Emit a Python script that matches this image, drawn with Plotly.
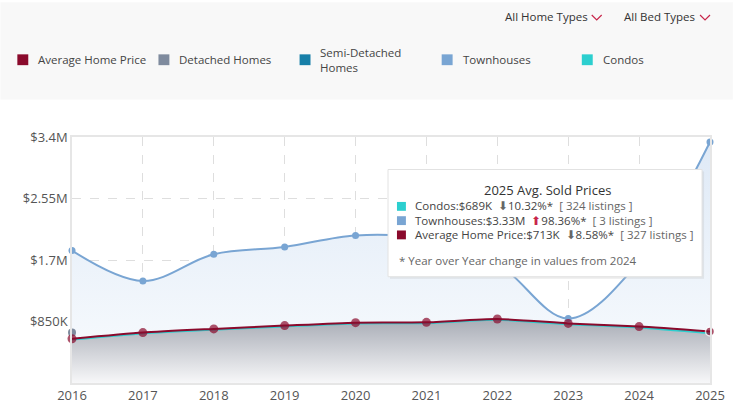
import plotly.graph_objects as go

# ---------------- data ----------------
years = [2016, 2017, 2018, 2019, 2020, 2021, 2022, 2023, 2024, 2025]
avg_price = [611e3, 697e3, 748e3, 793e3, 834e3, 838e3, 884e3, 824e3, 780e3, 713e3]
condos = [600e3, 685e3, 737e3, 782e3, 823e3, 827e3, 873e3, 812e3, 768e3, 689e3]
townhouses = [1.83e6, 1.41e6, 1.78e6, 1.88e6, 2.04e6, 1.99e6, 1.65e6, 0.89e6, 1.68e6, 3.33e6]
detached = [697e3, None, None, None, None, None, None, None, None, None]
semi_detached = [None] * 10

y_tick_vals = [850e3, 1.7e6, 2.55e6, 3.4e6]
y_tick_text = ["$850K", "$1.7M", "$2.55M", "$3.4M"]

legend_names = ["Average Home Price", "Detached Homes", "Semi-Detached<br>Homes", "Townhouses", "Condos"]
legend_colors = ["#8a0a2c", "#7f8b9e", "#177fa8", "#79a5d3", "#2ccfcf"]

tip_names = ["Condos", "Townhouses", "Average Home Price"]
tip_values = ["$689K", "$3.33M", "$713K"]
tip_changes = [-10.32, 98.36, -8.58]
tip_listings = [324, 3, 327]
tip_colors = ["#2ccfcf", "#79a5d3", "#8a0a2c"]

# ---------------- geometry helpers ----------------
W, H = 737, 416
L, R, T, B = 72, 714, 137, 387


def px(x):
    return (x - L) / (R - L)


def py(y):
    return (B - y) / (B - T)


FONT = "Open Sans"
fig = go.Figure()

# Townhouses (with light blue gradient fill)
fig.add_trace(go.Scatter(
    x=years, y=townhouses, mode="lines+markers", name="Townhouses",
    line=dict(color="#79a5d3", width=2, shape="spline", smoothing=1.0),
    marker=dict(size=7, color="#79a5d3"),
    fill="tozeroy",
    fillgradient=dict(type="vertical", start=0, stop=3.4e6,
                      colorscale=[[0, "rgba(250,252,254,1)"], [1, "rgba(222,233,246,1)"]]),
    cliponaxis=False, showlegend=False, hoverinfo="skip"))

# Semi-detached (no data)
fig.add_trace(go.Scatter(
    x=years, y=semi_detached, mode="lines+markers", name="Semi-Detached Homes",
    line=dict(color="#177fa8", width=2), showlegend=False, hoverinfo="skip"))

# Detached homes
fig.add_trace(go.Scatter(
    x=years, y=detached, mode="lines+markers", name="Detached Homes",
    line=dict(color="#7f8b9e", width=2), marker=dict(size=8, color="#7f8b9e"),
    cliponaxis=False, showlegend=False, hoverinfo="skip"))

# Condos
fig.add_trace(go.Scatter(
    x=years, y=condos, mode="lines", name="Condos",
    line=dict(color="#2ccfcf", width=2, shape="spline", smoothing=0.6),
    fill="tozeroy",
    fillgradient=dict(type="vertical", start=0, stop=880e3,
                      colorscale=[[0, "rgba(252,252,253,1)"], [1, "rgba(172,176,185,1)"]]),
    cliponaxis=False, showlegend=False, hoverinfo="skip"))

# Average home price
sizes = [9] * 9 + [9]
lw = [0] * 9 + [1.5]
fig.add_trace(go.Scatter(
    x=years, y=avg_price, mode="lines+markers", name="Average Home Price",
    line=dict(color="#8a0a2c", width=2, shape="spline", smoothing=0.6),
    marker=dict(size=sizes, color="#8a0a2c", line=dict(color="white", width=lw)),
    cliponaxis=False, showlegend=False, hoverinfo="skip"))

shapes = []
annotations = []

# top grey band
shapes.append(dict(type="rect", xref="paper", yref="paper", x0=px(0), x1=px(W), y0=py(99), y1=py(0),
                   fillcolor="#f8f8f8", line=dict(width=0), layer="below"))

# dropdowns
for label, xr, cx in [("All Home Types", 593, 600), ("All Bed Types", 701, 709)]:
    annotations.append(dict(xref="paper", yref="paper", x=px(xr), y=py(15), text=label,
                            xanchor="right", yanchor="middle", showarrow=False,
                            font=dict(family=FONT, size=11.5, color="#333")))
    shapes.append(dict(type="path", xref="paper", yref="paper",
                       path=f"M {px(cx-5)},{py(13)} L {px(cx)},{py(18)} L {px(cx+5)},{py(13)}",
                       line=dict(color="#c8254a", width=1.2)))

# custom legend
leg_sq_x = [22, 164, 306, 449, 590]
for name, col, sx in zip(legend_names, legend_colors, leg_sq_x):
    shapes.append(dict(type="rect", xref="paper", yref="paper",
                       x0=px(sx - 5), x1=px(sx + 6), y0=py(64), y1=py(53),
                       fillcolor=col, line=dict(width=0)))
    annotations.append(dict(xref="paper", yref="paper", x=px(sx + 14), y=py(58.5), text=name,
                            xanchor="left", yanchor="middle", showarrow=False, align="left",
                            font=dict(family=FONT, size=11.5, color="#444")))

# tooltip box
shapes.append(dict(type="rect", xref="paper", yref="paper", x0=px(392), x1=px(708),
                   y0=py(281), y1=py(172), fillcolor="rgba(180,180,180,0.25)",
                   line=dict(width=0), layer="above"))
shapes.append(dict(type="rect", xref="paper", yref="paper", x0=px(390), x1=px(706),
                   y0=py(279), y1=py(170), fillcolor="white",
                   line=dict(color="#e2e2e2", width=1), layer="above"))
annotations.append(dict(xref="paper", yref="paper", x=px(550), y=py(191),
                        text=f"{years[-1]} Avg. Sold Prices", showarrow=False,
                        xanchor="center", yanchor="middle",
                        font=dict(family=FONT, size=13, color="#333")))
row_y = [207, 221.5, 236]
for nm, val, ch, lst, col, ry in zip(tip_names, tip_values, tip_changes, tip_listings, tip_colors, row_y):
    shapes.append(dict(type="rect", xref="paper", yref="paper", x0=px(399), x1=px(408),
                       y0=py(ry + 5), y1=py(ry - 4), fillcolor=col, line=dict(width=0), layer="above"))
    arrow = ('<span style="color:#c8254a">⬆</span>' if ch > 0
             else '<span style="color:#666">⬇</span>')
    txt = (f"{nm}:{val}  {arrow}{abs(ch):.2f}%*  "
           f'<span style="color:#666">[ {lst} listings ]</span>')
    annotations.append(dict(xref="paper", yref="paper", x=px(415), y=py(ry), text=txt,
                            showarrow=False, xanchor="left", yanchor="middle",
                            font=dict(family=FONT, size=11.5, color="#444")))
annotations.append(dict(xref="paper", yref="paper", x=px(399), y=py(263),
                        text=f"* Year over Year change in values from {years[-2]}", showarrow=False,
                        xanchor="left", yanchor="middle",
                        font=dict(family=FONT, size=11.5, color="#666")))

fig.update_layout(
    width=W, height=H,
    margin=dict(l=L, r=W - R, t=T, b=H - B),
    paper_bgcolor="white", plot_bgcolor="white",
    shapes=shapes, annotations=annotations,
    showlegend=False,
    xaxis=dict(range=[2016, 2025], tickvals=years, ticktext=[str(y) for y in years],
               showgrid=True, gridcolor="#dedede", griddash="dash", gridwidth=1,
               showline=True, linecolor="#e6e6e6", linewidth=1.5, mirror=True,
               zeroline=False, ticks="", ticklen=0,
               tickfont=dict(family=FONT, size=13, color="#555")),
    yaxis=dict(range=[0, 3.4e6], tickvals=y_tick_vals, ticktext=y_tick_text,
               showgrid=True, gridcolor="#dedede", griddash="dash", gridwidth=1,
               showline=True, linecolor="#e6e6e6", linewidth=1.5, mirror=True,
               zeroline=False, ticks="", ticklen=0,
               tickfont=dict(family=FONT, size=13, color="#555")),
)

fig.write_html("out.html",
               config={"displayModeBar": False},
               post_script="document.body.style.margin='0';document.body.style.overflow='hidden';")
